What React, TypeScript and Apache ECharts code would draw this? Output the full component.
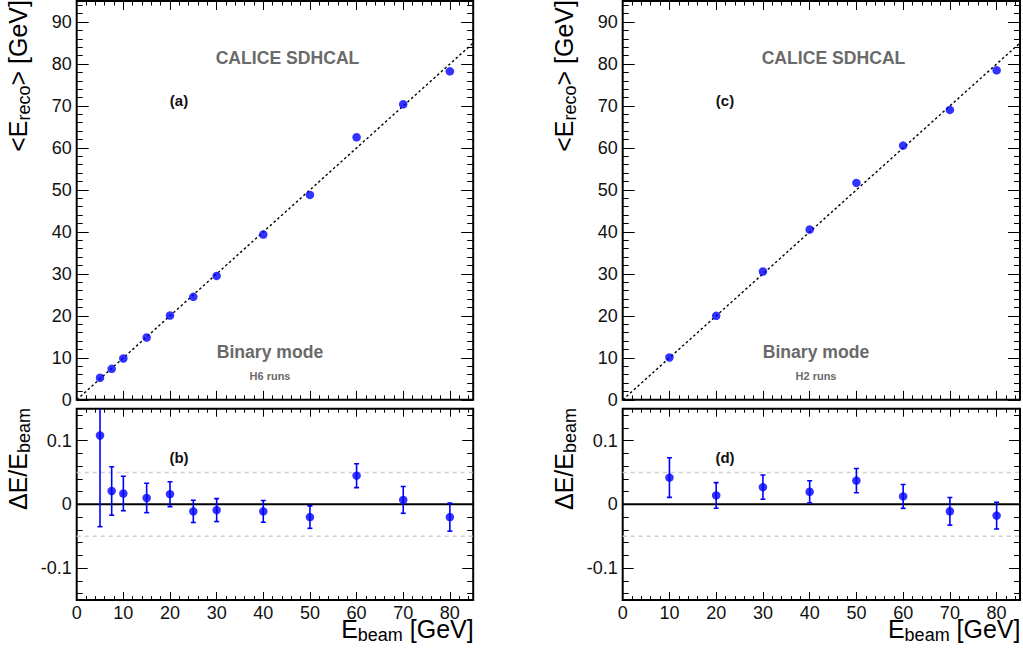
import React, { useEffect, useRef } from 'react';
import * as echarts from 'echarts';

// ---------- data ----------
// H6 runs (panels a, b)
const H6_EBEAM = [5, 7.5, 10, 15, 20, 25, 30, 40, 50, 60, 70, 80];
const H6_ERECO = [5.24, 7.38, 9.84, 14.84, 20.08, 24.52, 29.52, 39.37, 48.81, 62.54, 70.4, 78.25];
const H6_DEV = [0.108, 0.021, 0.017, 0.010, 0.016, -0.011, -0.009, -0.011, -0.020, 0.045, 0.007, -0.020];
const H6_DEV_ERR = [0.143, 0.038, 0.027, 0.023, 0.0195, 0.0175, 0.018, 0.017, 0.0176, 0.0187, 0.021, 0.022];

// H2 runs (panels c, d)
const H2_EBEAM = [10, 20, 30, 40, 50, 60, 70, 80];
const H2_ERECO = [10.08, 20.0, 30.56, 40.56, 51.67, 60.56, 69.05, 78.5];
const H2_DEV = [0.042, 0.014, 0.027, 0.0197, 0.0373, 0.0124, -0.0109, -0.0176];
const H2_DEV_ERR = [0.031, 0.020, 0.019, 0.0173, 0.019, 0.0187, 0.0217, 0.021];

// diagonal reference (Ereco = Ebeam) and deviation reference levels
const DIAGONAL = [[0, 0], [85, 85]];
const DEV_REF_SOLID = [0];
const DEV_REF_DASHED = [-0.05, 0.05];

// axes
const X_RANGE = [0, 85];
const Y_TOP_RANGE = [0, 95];
const Y_DEV_RANGE = [-0.15, 0.15];
const X_MAJOR = [0, 10, 20, 30, 40, 50, 60, 70, 80];
const X_MINOR = [2, 4, 6, 8, 12, 14, 16, 18, 22, 24, 26, 28, 32, 34, 36, 38, 42, 44, 46, 48, 52, 54, 56, 58, 62, 64, 66, 68, 72, 74, 76, 78, 82, 84];
const Y_TOP_MAJOR = [0, 10, 20, 30, 40, 50, 60, 70, 80, 90];
const Y_TOP_MINOR = [2, 4, 6, 8, 12, 14, 16, 18, 22, 24, 26, 28, 32, 34, 36, 38, 42, 44, 46, 48, 52, 54, 56, 58, 62, 64, 66, 68, 72, 74, 76, 78, 82, 84, 86, 88, 92, 94];
const Y_DEV_MAJOR = [-0.1, 0, 0.1];
const Y_DEV_MINOR = [-0.14, -0.12, -0.08, -0.06, -0.04, -0.02, 0.02, 0.04, 0.06, 0.08, 0.12, 0.14];

const FONT = '"Liberation Sans", Arial, Helvetica, sans-serif';
const BLUE = '#0000ff';
const GRAY = '#6a6a6a';

// ---------- layout ----------
const PANEL_LEFT = [76.7, 622.7];
const PANEL_WIDTH = [396.5, 397.3];
const TOP_Y = 1;
const TOP_H = 398.8;
const BOT_Y = 408.7;
const BOT_H = 191.3;

function axisPair(
  dim: 'x' | 'y',
  gridIndex: number,
  range: number[],
  major: number[],
  minor: number[],
  showLabels: boolean,
  majorLen: number,
  minorLen: number,
  labelFmt: (v: number) => string
) {
  const posA = dim === 'x' ? 'bottom' : 'left';
  const posB = dim === 'x' ? 'top' : 'right';
  const base = (position: string, ticks: number[], len: number, labels: boolean) => ({
    type: 'value',
    gridIndex,
    position,
    min: range[0],
    max: range[1],
    axisLine: { show: false, onZero: false },
    splitLine: { show: false },
    axisTick: {
      show: true,
      inside: true,
      length: len,
      customValues: ticks,
      lineStyle: { color: '#000', width: 1 },
    },
    axisLabel: {
      show: labels,
      customValues: major,
      margin: dim === 'x' ? 4 : 5,
      fontSize: 18,
      fontFamily: FONT,
      color: '#111',
      formatter: labelFmt,
    },
  });
  return [
    base(posA, major, majorLen, showLabels),
    base(posA, minor, minorLen, false),
    base(posB, major, majorLen, false),
    base(posB, minor, minorLen, false),
  ];
}

const fmtInt = (v: number) => String(Math.round(v));
const fmtDev = (v: number) => {
  const r = Math.round(v * 10) / 10;
  return r === 0 ? '0' : String(r);
};

function errorBarSeries(xIdx: number, yIdx: number, xs: number[], ys: number[], es: number[]) {
  return {
    type: 'custom',
    xAxisIndex: xIdx,
    yAxisIndex: yIdx,
    clip: true,
    z: 3,
    data: xs.map((x, i) => [x, ys[i], es[i]]),
    renderItem: (params: any, api: any) => {
      const x = api.value(0);
      const y = api.value(1);
      const e = api.value(2);
      const hi = api.coord([x, y + e]);
      const lo = api.coord([x, y - e]);
      const cap = 2.5;
      const st = { stroke: BLUE, lineWidth: 1.6 };
      return {
        type: 'group',
        children: [
          { type: 'line', shape: { x1: hi[0], y1: hi[1], x2: lo[0], y2: lo[1] }, style: st },
          { type: 'line', shape: { x1: hi[0] - cap, y1: hi[1], x2: hi[0] + cap, y2: hi[1] }, style: st },
          { type: 'line', shape: { x1: lo[0] - cap, y1: lo[1], x2: lo[0] + cap, y2: lo[1] }, style: st },
        ],
      };
    },
  };
}

function hLine(xIdx: number, yIdx: number, y: number, dashed: boolean) {
  return {
    type: 'line',
    xAxisIndex: xIdx,
    yAxisIndex: yIdx,
    data: [[X_RANGE[0], y], [X_RANGE[1], y]],
    showSymbol: false,
    symbol: 'none',
    silent: true,
    z: 1,
    lineStyle: dashed
      ? { color: '#cfcfcf', width: 1.5, type: [4, 4] }
      : { color: '#000', width: 2 },
  };
}

function buildOption() {
  const xAxis: any[] = [];
  const yAxis: any[] = [];
  const grid: any[] = [];
  const series: any[] = [];
  const graphic: any[] = [];

  const panels = [
    { e: H6_EBEAM, reco: H6_ERECO, dev: H6_DEV, err: H6_DEV_ERR, tags: ['(a)', '(b)'], runs: 'H6 runs' },
    { e: H2_EBEAM, reco: H2_ERECO, dev: H2_DEV, err: H2_DEV_ERR, tags: ['(c)', '(d)'], runs: 'H2 runs' },
  ];

  panels.forEach((p, pi) => {
    const left = PANEL_LEFT[pi];
    const width = PANEL_WIDTH[pi];
    const gTop = pi * 2;
    const gBot = pi * 2 + 1;
    grid.push({ left, top: TOP_Y, width, height: TOP_H, show: true, borderColor: '#000', borderWidth: 2, backgroundColor: 'transparent' });
    grid.push({ left, top: BOT_Y, width, height: BOT_H, show: true, borderColor: '#000', borderWidth: 2, backgroundColor: 'transparent' });

    xAxis.push(...axisPair('x', gTop, X_RANGE, X_MAJOR, X_MINOR, false, 9, 4.5, fmtInt));
    yAxis.push(...axisPair('y', gTop, Y_TOP_RANGE, Y_TOP_MAJOR, Y_TOP_MINOR, true, 12, 6, fmtInt));
    xAxis.push(...axisPair('x', gBot, X_RANGE, X_MAJOR, X_MINOR, true, 8, 4, fmtInt));
    yAxis.push(...axisPair('y', gBot, Y_DEV_RANGE, Y_DEV_MAJOR, Y_DEV_MINOR, true, 11, 6, fmtDev));

    const tIdx = gTop * 4;
    const bIdx = gBot * 4;

    // top: diagonal + points
    series.push({
      type: 'line',
      xAxisIndex: tIdx,
      yAxisIndex: tIdx,
      data: DIAGONAL,
      symbol: 'none',
      silent: true,
      z: 1,
      lineStyle: { color: '#000', width: 1.4, type: [2.5, 2.5] },
    });
    series.push({
      type: 'scatter',
      xAxisIndex: tIdx,
      yAxisIndex: tIdx,
      data: p.e.map((x, i) => [x, p.reco[i]]),
      symbol: 'circle',
      symbolSize: 8.5,
      itemStyle: { color: BLUE },
      z: 4,
    });

    // bottom: references, error bars, points
    DEV_REF_DASHED.forEach((v) => series.push(hLine(bIdx, bIdx, v, true)));
    DEV_REF_SOLID.forEach((v) => series.push(hLine(bIdx, bIdx, v, false)));
    series.push(errorBarSeries(bIdx, bIdx, p.e, p.dev, p.err));
    series.push({
      type: 'scatter',
      xAxisIndex: bIdx,
      yAxisIndex: bIdx,
      data: p.e.map((x, i) => [x, p.dev[i]]),
      symbol: 'circle',
      symbolSize: 8.5,
      itemStyle: { color: BLUE },
      clip: true,
      z: 4,
    });

    // texts
    const ox = left - PANEL_LEFT[0];
    graphic.push({
      type: 'text', x: 287.5 + ox, y: 57.5,
      style: { text: 'CALICE SDHCAL', font: `bold 17.6px ${FONT}`, fill: GRAY, align: 'center', verticalAlign: 'middle' },
    });
    graphic.push({
      type: 'text', x: 270 + ox, y: 352,
      style: { text: 'Binary mode', font: `bold 17.6px ${FONT}`, fill: GRAY, align: 'center', verticalAlign: 'middle' },
    });
    graphic.push({
      type: 'text', x: 270 + ox, y: 376,
      style: { text: p.runs, font: `bold 11px ${FONT}`, fill: GRAY, align: 'center', verticalAlign: 'middle' },
    });
    graphic.push({
      type: 'text', x: 179 + ox, y: 100.5,
      style: { text: p.tags[0], font: `bold 15px ${FONT}`, fill: '#111', align: 'center', verticalAlign: 'middle' },
    });
    graphic.push({
      type: 'text', x: 179 + ox, y: 457,
      style: { text: p.tags[1], font: `bold 15px ${FONT}`, fill: '#111', align: 'center', verticalAlign: 'middle' },
    });

    const rich = {
      m: { fontSize: 25, fontFamily: FONT, lineHeight: 30, fill: '#000' },
      s: { fontSize: 18, fontFamily: FONT, lineHeight: 10, verticalAlign: 'bottom', fill: '#000' },
    };
    // y titles (rotated)
    graphic.push({
      type: 'text', x: 18.3 + ox, y: 0, rotation: Math.PI / 2,
      style: { text: '{m|<E}{s|reco}{m|> [GeV]}', rich, align: 'right', verticalAlign: 'middle' },
    });
    graphic.push({
      type: 'text', x: 18.3 + ox, y: 408, rotation: Math.PI / 2,
      style: { text: '{m|ΔE/E}{s|beam}', rich, align: 'right', verticalAlign: 'middle' },
    });
    // x title
    graphic.push({
      type: 'text', x: left + width + 0.5, y: 629,
      style: { text: '{m|E}{s|beam}{m| [GeV]}', rich, align: 'right', verticalAlign: 'middle' },
    });
  });

  return { animation: false, backgroundColor: '#fff', grid, xAxis, yAxis, series, graphic };
}

export default function App() {
  const ref = useRef<HTMLDivElement>(null);
  useEffect(() => {
    document.body.style.margin = '0';
    if (!ref.current) return;
    const chart = echarts.init(ref.current, undefined, { renderer: 'svg' });
    chart.setOption(buildOption() as any);
    return () => chart.dispose();
  }, []);
  return <div ref={ref} style={{ width: 1023, height: 654 }} />;
}
